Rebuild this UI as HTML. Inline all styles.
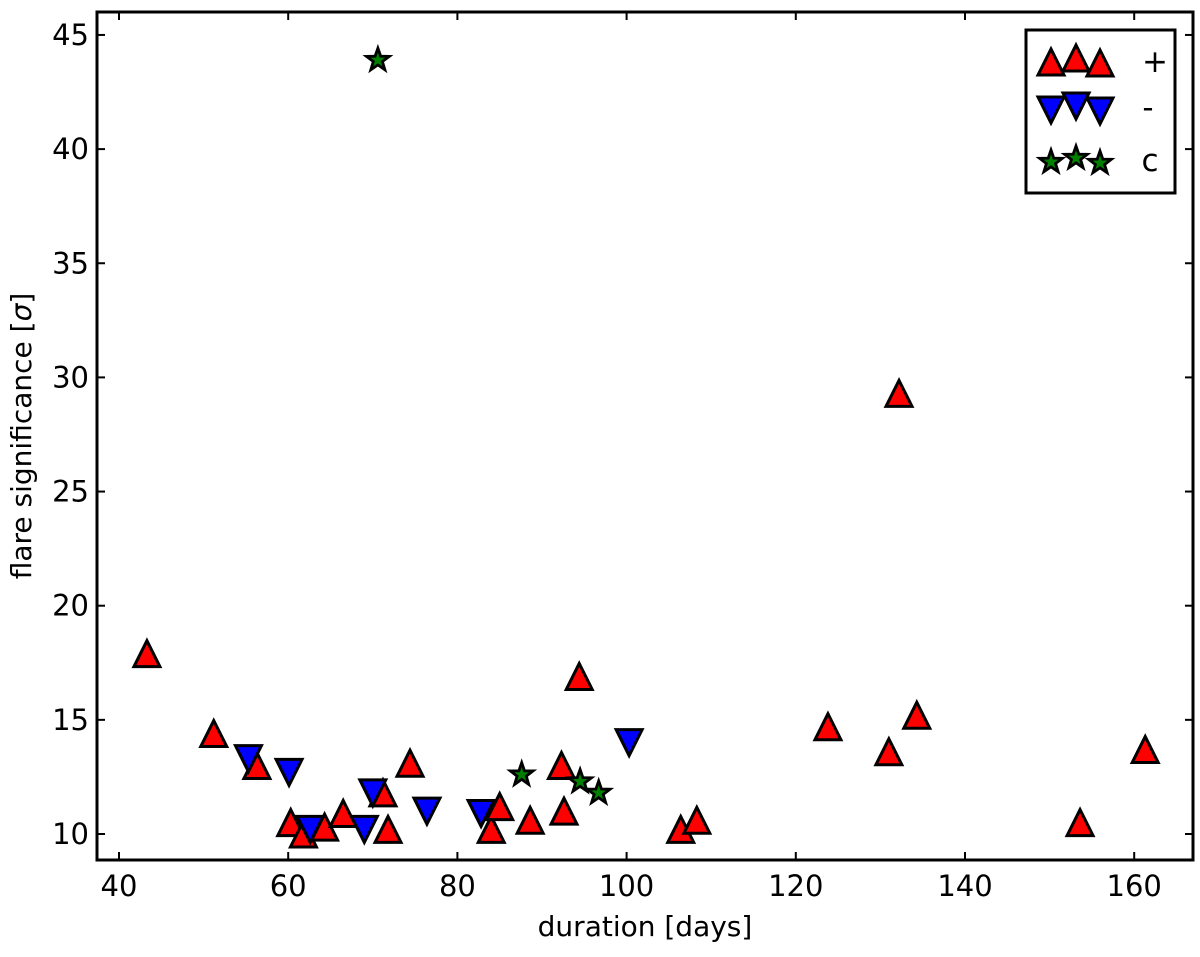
<!DOCTYPE html>
<html><head><meta charset="utf-8"><style>
body{margin:0;background:#fff;}
svg text{font-family:"DejaVu Sans","Liberation Sans",sans-serif;fill:#000;}
</style></head><body>
<svg id="chart" width="1200" height="952" xmlns="http://www.w3.org/2000/svg">
<g id="marks"></g>
<rect x="97" y="12" width="1096" height="848" fill="none" stroke="#000" stroke-width="3"/>
<g id="axes"></g>
<text x="645" y="936" font-size="28" text-anchor="middle">duration [days]</text>
<text transform="translate(31,436) rotate(-90)" font-size="28" text-anchor="middle">flare significance [<tspan font-style="italic">σ</tspan>]</text>
<g>
<rect x="1026" y="30" width="149" height="163" fill="#fff" stroke="#000" stroke-width="3"/>
<g id="leg"></g>
<text x="1155" y="72" font-size="31" text-anchor="middle">+</text>
<text x="1148" y="118" font-size="31" text-anchor="middle">-</text>
<text x="1150" y="171" font-size="31" text-anchor="middle">c</text>
</g>
</svg>
<script>
const plusX=[43.3,51.2,56.3,60.3,61.8,64.3,66.5,71.2,71.8,74.4,84,85,88.6,92.3,92.6,94.4,106.4,108.3,123.8,131,132.2,134.3,153.6,161.3];
const plusY=[17.9,14.4,13.0,10.5,10.0,10.3,10.9,11.8,10.2,13.1,10.2,11.2,10.6,13.0,11.0,16.9,10.2,10.6,14.7,13.6,29.3,15.2,10.5,13.7];
const minusX=[55.3,60.1,62.6,69,70,76.4,82.8,100.3];
const minusY=[13.3,12.7,10.2,10.2,11.8,11.0,10.9,14.0];
const cX=[70.6,87.6,94.5,96.7];
const cY=[43.9,12.6,12.3,11.8];
const xTicks=[40,60,80,100,120,140,160];
const yTicks=[10,15,20,25,30,35,40,45];

const NS="http://www.w3.org/2000/svg";
function sx(v){return 119+(v-40)*8.46;}
function sy(v){return 834-(v-10)*22.83;}
function mk(tag,attrs,parent){const e=document.createElementNS(NS,tag);for(const k in attrs)e.setAttribute(k,attrs[k]);parent.appendChild(e);return e;}
const marks=document.getElementById('marks'),axes=document.getElementById('axes'),leg=document.getElementById('leg');
function tri(x,y,up,fill,parent){const h=13;const p=up?`${x},${y-h} ${x-h},${y+h} ${x+h},${y+h}`:`${x},${y+h} ${x-h},${y-h} ${x+h},${y-h}`;
 return mk('polygon',{points:p,fill:fill,stroke:'#000','stroke-width':3,'stroke-linejoin':'miter'},parent);}
function star(x,y,parent){let p=[];for(let i=0;i<10;i++){const r=i%2?4.8:12;const a=-Math.PI/2+i*Math.PI/5;p.push((x+r*Math.cos(a)).toFixed(1)+','+(y+r*Math.sin(a)).toFixed(1));}
 return mk('polygon',{points:p.join(' '),fill:'#007f00',stroke:'#000','stroke-width':2.8},parent);}
plusX.forEach((v,i)=>{const e=tri(sx(v),sy(plusY[i]),true,'#ff0000',marks);

});
minusX.forEach((v,i)=>{const e=tri(sx(v),sy(minusY[i]),false,'#0000ff',marks);

});
cX.forEach((v,i)=>{const e=star(sx(v),sy(cY[i]),marks);

});
xTicks.forEach(t=>{const x=sx(t);
 mk('line',{x1:x,x2:x,y1:860,y2:852,stroke:'#000','stroke-width':2},axes);
 mk('line',{x1:x,x2:x,y1:12,y2:20,stroke:'#000','stroke-width':2},axes);
 const tx=mk('text',{x:x,y:896,'font-size':29,'text-anchor':'middle'},axes);tx.textContent=t;
 
 });
yTicks.forEach(t=>{const y=sy(t);
 mk('line',{x1:97,x2:105,y1:y,y2:y,stroke:'#000','stroke-width':2},axes);
 mk('line',{x1:1193,x2:1185,y1:y,y2:y,stroke:'#000','stroke-width':2},axes);
 const tx=mk('text',{x:89,y:y+10,'font-size':29,'text-anchor':'end'},axes);tx.textContent=t;
 
 });
[[1051,62],[1076,58],[1100,63]].forEach(p=>tri(p[0],p[1],true,'#ff0000',leg));
[[1051,110],[1076,106],[1100,111]].forEach(p=>tri(p[0],p[1],false,'#0000ff',leg));
[[1051,162],[1076,158],[1100,163]].forEach(p=>star(p[0],p[1],leg));
</script>
</body></html>
